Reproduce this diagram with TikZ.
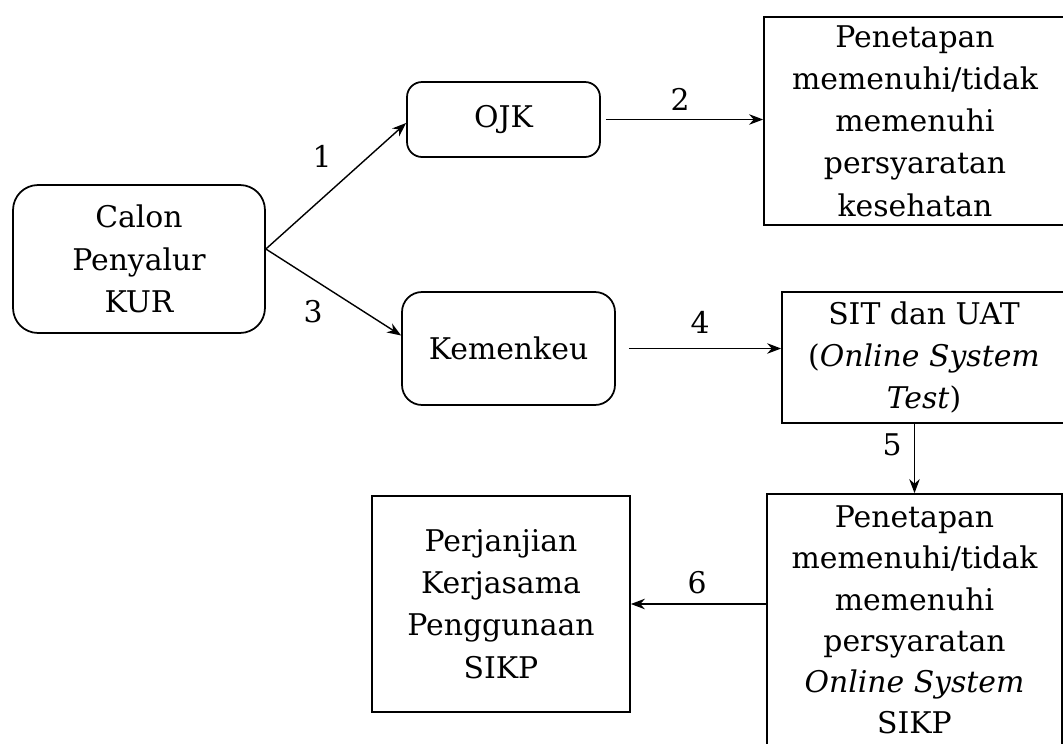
\documentclass[tikz,border=0pt]{standalone}
\usepackage{fontspec}
\setmainfont{DejaVu Serif}
\usetikzlibrary{arrows.meta}
\begin{document}
\begin{tikzpicture}[x=0.02cm, y=-0.02cm, line width=1pt,
		font=\fontsize{17}{24}\selectfont,
		rbox/.style = {draw, rounded corners=0.4cm, align=center, inner sep=0pt},
		sbox/.style = {draw, align=center, inner sep=0pt},
		arr/.style = {-{Stealth[length=8pt, width=6pt]}, line width=0.8pt},
		num/.style = {inner sep=1pt}]
	\useasboundingbox (0,0) rectangle (1063,744);
	\clip (0,0) rectangle (1063,744);
	\node[rbox, rounded corners=0.5cm, minimum width=5.04cm, minimum height=2.96cm] (calon) at (139,259) {Calon\\Penyalur\\KUR};
	\node[rbox, rounded corners=0.3cm, minimum width=3.86cm, minimum height=1.5cm] (ojk) at (503.5,119.5) {OJK};
	\node[rbox, minimum width=4.26cm, minimum height=2.26cm] (kemenkeu) at (508.5,348.5) {Kemenkeu};
	\node[sbox, minimum width=6.04cm, minimum height=4.16cm] (tetap1) at (915,121) {Penetapan\\memenuhi/tidak\\memenuhi\\persyaratan\\kesehatan};
	\node[sbox, minimum width=5.68cm, minimum height=2.62cm] (sit) at (924,357.5) {SIT dan UAT\\(\textit{Online System}\\\textit{Test})};
	\node[sbox, font=\fontsize{17}{23.5}\selectfont, minimum width=5.9cm, minimum height=5.04cm] (tetap2) at (914.5,620) {Penetapan\\memenuhi/tidak\\memenuhi\\persyaratan\\\textit{Online System}\\SIKP};
	\node[sbox, minimum width=5.16cm, minimum height=4.32cm] (pks) at (501,604) {Perjanjian\\Kerjasama\\Penggunaan\\SIKP};
	% connectors
	\draw[arr] ([yshift=0.2cm]calon.east) -- ([yshift=-0.07cm]ojk.west);
	\draw[arr] ([yshift=0.2cm]calon.east) -- ([yshift=0.26cm]kemenkeu.west);
	\draw[arr, shorten <=0.1cm] (ojk.east) -- (ojk.east -| tetap1.west);
	\draw[arr, shorten <=0.26cm] (kemenkeu.east) -- (kemenkeu.east -| sit.west);
	\draw[arr] (tetap2.north |- sit.south) -- (tetap2.north);
	\draw[arr] (pks.east -| tetap2.west) -- (pks.east);
	% numbers
	\node[num] (n1) at (322,156) {1};
	\node[num] (n2) at (680,99) {2};
	\node[num] (n3) at (313,312) {3};
	\node[num] (n4) at (700,322) {4};
	\node[num] (n5) at (892,445) {5};
	\node[num] (n6) at (697,583) {6};
\end{tikzpicture}
\end{document}
